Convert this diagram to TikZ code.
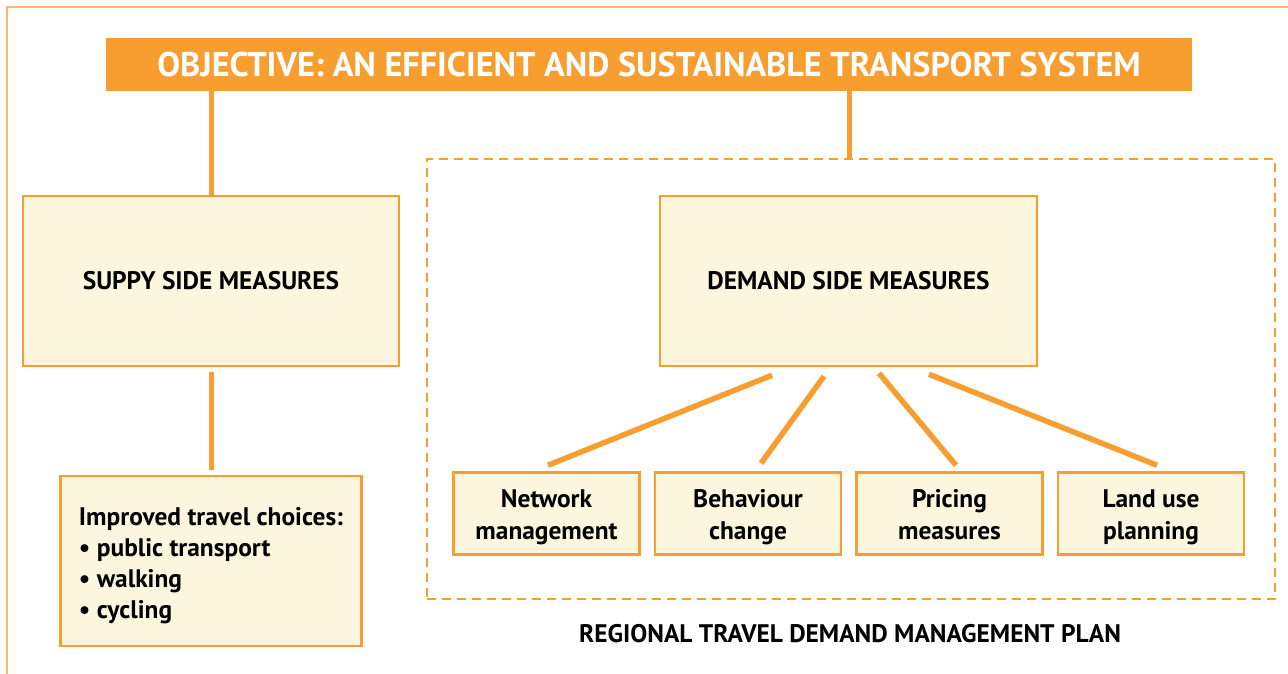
\documentclass[tikz,border=0pt]{standalone}
\usepackage{fontspec}
\setmainfont{PT Sans}
\usetikzlibrary{calc}
\definecolor{tdmorange}{HTML}{F89D30}
\definecolor{tdmframe}{HTML}{FBB96C}
\definecolor{tdmfill}{HTML}{FDF6DF}
% taller first-line strut to lower the text block inside its box
\newcommand\tdmtop[1]{\rule{0pt}{#1}}
\begin{document}
\begin{tikzpicture}[x=1pt,y=-1pt,
  measure/.style={draw=tdmorange,line width=2.5pt,fill=tdmfill,inner sep=0pt,
    font=\fontsize{25.4}{30}\selectfont\bfseries,align=center},
  smallbox/.style={measure,minimum width=186,minimum height=82,
    font=\fontsize{25.4}{32}\selectfont\bfseries},
  conn/.style={draw=tdmorange,line width=5pt},
  diag/.style={draw=tdmorange,line width=5.5pt}]
\useasboundingbox (0,0) rectangle (1288,674);
% outer frame (top and left edges)
\draw[tdmframe,line width=2pt] (6.5,674) -- (6.5,7.5) -- (1288,7.5);
% objective banner
\node[fill=tdmorange,minimum width=1086,minimum height=53,inner sep=0pt,
  text=white,font=\fontsize{34.2}{36}\selectfont\bfseries] (obj) at (649,64.5)
  {OBJECTIVE: AN EFFICIENT AND SUSTAINABLE TRANSPORT SYSTEM};
% supply side
\node[measure,minimum width=376,minimum height=170] (sup) at (211,281) {SUPPY SIDE MEASURES};
\node[measure,minimum width=301,minimum height=170,align=left,
  font=\fontsize{25.4}{31}\selectfont\bfseries] (choices) at (211,561)
  {\tdmtop{27pt}Improved travel choices:\\\textbullet\ public transport\\\textbullet\ walking\\\textbullet\ cycling};
% demand side plan
\node[draw=tdmorange,line width=2.5pt,dash pattern=on 9pt off 6pt,
  minimum width=848,minimum height=440,inner sep=0pt] (plan) at (851,379) {};
\node[measure,minimum width=377,minimum height=170] (dsm) at (848.5,281) {DEMAND SIDE MEASURES};
\node[smallbox] (net) at (546.5,513.5) {\tdmtop{30.4pt}Network\\management\strut};
\node[smallbox] (beh) at (748,513.5) {\tdmtop{30.4pt}Behaviour\\change\strut};
\node[smallbox] (pri) at (949.5,513.5) {\tdmtop{30.4pt}Pricing\\measures\strut};
\node[smallbox] (land) at (1151,513.5) {\tdmtop{30.4pt}Land use\\planning\strut};
\node[font=\fontsize{25.4}{30}\selectfont\bfseries] (plantitle) at (850,634)
  {REGIONAL TRAVEL DEMAND MANAGEMENT PLAN};
% connectors
\draw[conn] (sup.north |- obj.south) -- (sup.north);
\draw[conn] ($(sup.south)+(0,5)$) -- ($(choices.north)+(0,-5)$);
\draw[conn] ($(obj.south)+(200,0)$) -- ($(plan.north)+(-2,0)$);
\draw[diag] ($(dsm.south)+(-76.5,8)$) -- ($(net.north)+(1.5,-6)$);
\draw[diag] ($(dsm.south)+(-24.5,9)$) -- ($(beh.north)+(13,-8)$);
\draw[diag] ($(dsm.south)+(30.5,6)$) -- ($(pri.north)+(6.5,-6)$);
\draw[diag] ($(dsm.south)+(80.5,7)$) -- ($(land.north)+(6,-6)$);
\end{tikzpicture}
\end{document}
